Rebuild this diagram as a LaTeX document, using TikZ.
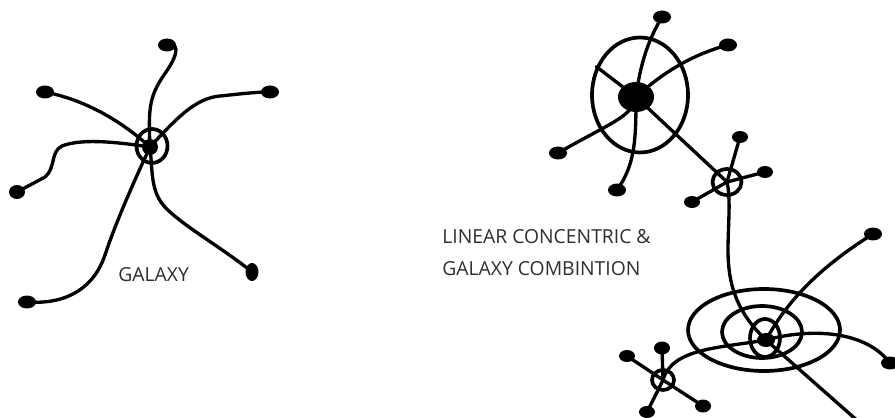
\documentclass[tikz,border=0pt]{standalone}
\usepackage{fontspec}
\setmainfont{Open Sans}
\usetikzlibrary{shapes.geometric, positioning}

\begin{document}
\begin{tikzpicture}[
  x=0.02cm, y=-0.02cm,
  wire/.style ={line width=1.9pt, line cap=round},
  leaf/.style ={ellipse, fill=black, inner sep=0pt,
                minimum width=0.36cm, minimum height=0.26cm},
  hub/.style  ={ellipse, draw, line width=2.1pt, inner sep=0pt},
  core/.style ={ellipse, fill=black, inner sep=0pt},
  lbl/.style  ={font=\fontsize{11}{12}\selectfont, text=black!82,
                anchor=base west, inner sep=0pt},
]
\useasboundingbox (0,0) rectangle (895,418);

%% ---- Left: galaxy ----
\node[core, minimum width=0.32cm, minimum height=0.32cm] (gc) at (150,147) {};
\node[hub, minimum width=0.62cm, minimum height=0.68cm] (gring) at (152,146) {};
\node[leaf] (g1) at (167,45)  {};
\node[leaf] (g2) at (45,92)   {};
\node[leaf] (g3) at (270,92)  {};
\node[leaf, minimum width=0.32cm, minimum height=0.28cm] (g4) at (17,192)  {};
\node[leaf] (g5) at (27,302)  {};
\node[leaf, minimum width=0.26cm, minimum height=0.36cm] (g6) at (252,272) {};

\draw[wire] (gc.center) .. controls (148,105) and (150,95) .. (166,72)
            .. controls (180,52) and (178,42) .. (g1.center);
\draw[wire] (gc.center) .. controls (120,120) and (85,100) .. (g2.center);
\draw[wire] (gc.center) .. controls (175,120) and (195,98) .. (220,96)
            .. controls (240,94) and (255,92) .. (g3.center);
\draw[wire] (gc.center) .. controls (110,141) and (80,139) .. (62,146)
            .. controls (50,152) and (56,168) .. (45,177) -- (g4.center);
\draw[wire] (gc.center) .. controls (130,190) and (115,225) .. (105,255)
            .. controls (95,285) and (70,305) .. (g5.center);
\draw[wire] (gc.center) .. controls (153,175) and (150,195) .. (170,212)
            .. controls (190,230) and (225,250) .. (g6.center);

\node[lbl] (tgal) at (118,281) {GALAXY};

%% ---- Right: big node (top) ----
\node[hub, minimum width=1.92cm, minimum height=2.3cm] (pring) at (640,95) {};
\node[core, minimum width=0.72cm, minimum height=0.6cm] (pc) at (636,97) {};
\node[leaf] (p1) at (662,17)  {};
\node[leaf] (p2) at (728,45)  {};
\node[leaf] (p3) at (558,153) {};
\node[leaf] (p4) at (617,190) {};

\draw[wire] (pc.center) .. controls (640,65) and (648,40) .. (p1.center);
\draw[wire] (pc.center) .. controls (660,75) and (690,55) .. (p2.center);
\draw[wire] (pc.center) .. controls (632,117) and (612,122) .. (p3.center);
\draw[wire] (pc.center) .. controls (636,140) and (635,165) .. (p4.center);
\draw[wire] (pc.center) -- (pring.147);

%% ---- Small node between ----
\node[hub, minimum width=0.58cm, minimum height=0.52cm] (ac) at (727,182) {};
\node[leaf, minimum width=0.32cm, minimum height=0.24cm] (a1) at (740,137) {};
\node[leaf, minimum width=0.32cm, minimum height=0.24cm] (a2) at (765,172) {};
\node[leaf, minimum width=0.32cm, minimum height=0.24cm] (a3) at (692,202) {};

\draw[wire] (a1.center) -- (ac.center);
\draw[wire] (a2.center) -- (ac.center) -- (a3.center);

%% ---- Concentric node (bottom) ----
\node[hub, minimum width=3.04cm, minimum height=1.64cm] (bout1) at (764,330) {};
\node[hub, minimum width=1.6cm,  minimum height=1.04cm] (bout2) at (762,332) {};
\node[hub, minimum width=0.6cm,  minimum height=0.76cm] (bout3) at (765,338) {};
\node[core, minimum width=0.36cm, minimum height=0.28cm] (bc) at (766,340) {};
\node[leaf] (b1) at (873,234) {};
\node[leaf] (b2) at (890,363) {};
\coordinate (bend) at (885,445);

%% ---- Small node (bottom left) ----
\node[hub, minimum width=0.44cm, minimum height=0.4cm] (cc) at (663,380) {};
\node[leaf, minimum width=0.32cm, minimum height=0.24cm] (c1) at (627,356) {};
\node[leaf, minimum width=0.32cm, minimum height=0.26cm] (c2) at (662,348) {};
\node[leaf, minimum width=0.32cm, minimum height=0.26cm] (c3) at (703,406) {};
\node[leaf, minimum width=0.32cm, minimum height=0.24cm] (c4) at (647,412) {};

%% ---- Links ----
\draw[wire] (pc.center) -- (ac.center) .. controls (731,200) and (728,225) .. (728,250)
            .. controls (728,290) and (740,315) .. (bc.center);
\draw[wire] (bc.center) .. controls (785,305) and (815,270) .. (b1.center);
\draw[wire] (bc.center) .. controls (810,328) and (865,330) .. (b2.center);
\draw[wire] (bc.center) -- (bend);
\draw[wire] (bc.center) .. controls (720,348) and (672,348) .. (cc.center);
\draw[wire] (c1.center) -- (cc.center) -- (c3.center);
\draw[wire] (c2.center) -- (cc.center) -- (c4.center);

\node[lbl] (tlin) at (442,243.5) {LINEAR CONCENTRIC \&};
\node[lbl] (tcomb) at (442,275.5) {GALAXY COMBINTION};

\end{tikzpicture}
\end{document}
